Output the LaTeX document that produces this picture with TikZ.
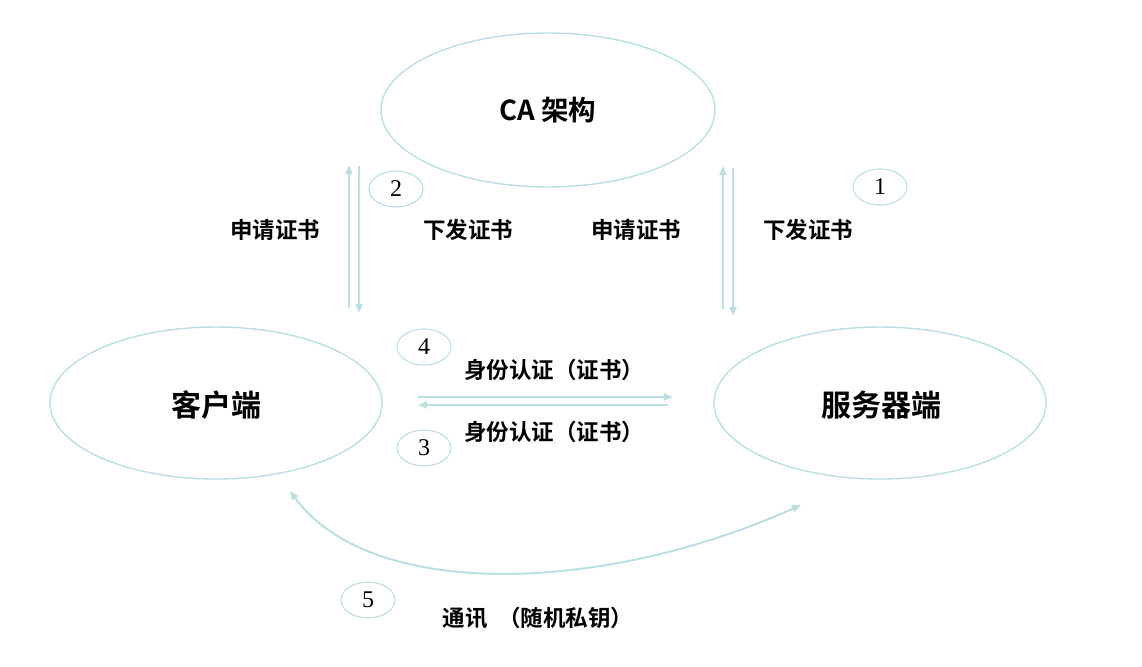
\documentclass[tikz,border=0pt]{standalone}
\usepackage{fontspec}
\setmainfont{Liberation Serif}
\newfontfamily\cjk{Noto Sans CJK SC}[BoldFont={* Bold}]
\usetikzlibrary{arrows.meta,shapes.geometric}
\definecolor{linec}{RGB}{186,224,228}
\tikzset{
  big/.style={draw=linec, line width=1.4pt, ellipse, minimum width=332pt, minimum height=152pt},
  num/.style={draw=linec, line width=1.1pt, ellipse, minimum width=54pt, minimum height=36pt, inner sep=0pt, font=\fontsize{24}{26}\selectfont},
  lbl/.style={font=\cjk\bfseries\fontsize{22.5}{24}\selectfont, inner sep=0pt},
  conn/.style={draw=linec, line width=2pt, -{Triangle[length=9pt,width=7pt]}},
}
\begin{document}
\begin{tikzpicture}[x=1pt,y=-1pt]
\fill[white] (0,0) rectangle (1142,666);
\useasboundingbox (0,0) rectangle (1142,666);
\node[big, minimum width=334pt, minimum height=154pt] (ca) at (548,110) {};
\node[lbl, font=\cjk\bfseries\fontsize{27.5}{29}\selectfont] (catext) at (548,110) {CA 架构};
\node[big] (client) at (216,403) {};
\node[lbl, font=\cjk\bfseries\fontsize{30}{32}\selectfont] (clienttext) at (216,405) {客户端};
\node[big] (server) at (880,403) {};
\node[lbl, font=\cjk\bfseries\fontsize{30}{32}\selectfont] (servertext) at (881,405) {服务器端};

\node[num] (n2) at (396,189) {2};
\node[num] (n1) at (880,187) {1};
\node[num] (n4) at (424,347) {4};
\node[num] (n3) at (424,448) {3};
\node[num] (n5) at (368,600) {5};

\coordinate (a1s) at (349,308); \coordinate (a1e) at (349,165);
\coordinate (a2s) at (359,166); \coordinate (a2e) at (359,313);
\coordinate (a3s) at (723,309); \coordinate (a3e) at (723,166);
\coordinate (a4s) at (733,168); \coordinate (a4e) at (733,316);
\coordinate (h1s) at (418,397); \coordinate (h1e) at (673,397);
\coordinate (h2s) at (668,405); \coordinate (h2e) at (418,405);
\coordinate (cs) at (290,491); \coordinate (ce) at (801,505);

\draw[conn] (a1s) -- (a1e);
\draw[conn] (a2s) -- (a2e);
\draw[conn] (a3s) -- (a3e);
\draw[conn] (a4s) -- (a4e);
\draw[conn] (h1s) -- (h1e);
\draw[conn] (h2s) -- (h2e);
\draw[conn, {Triangle[length=9pt,width=7pt]}-{Triangle[length=9pt,width=7pt]}] (cs) .. controls (370,600) and (600,595) .. (ce);

\node[lbl] (l1) at (275,230) {申请证书};
\node[lbl] (l2) at (468,230) {下发证书};
\node[lbl] (l3) at (636,230) {申请证书};
\node[lbl] (l4) at (808,230) {下发证书};
\node[lbl] (l5) at (554,370) {身份认证（证书）};
\node[lbl] (l6) at (554,432) {身份认证（证书）};
\node[lbl] (l7) at (538,618) {通讯\ \ （随机私钥）};
\end{tikzpicture}
\end{document}
